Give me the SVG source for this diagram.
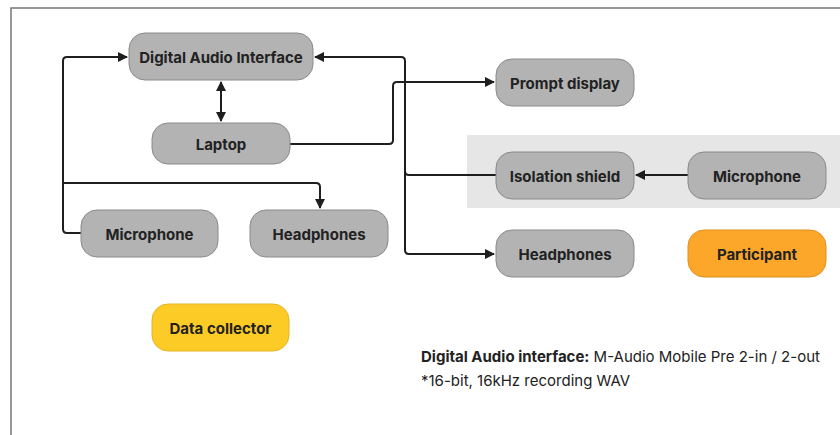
<svg xmlns="http://www.w3.org/2000/svg" width="840" height="435" viewBox="0 0 840 435">
<defs>
<style>
.n rect{fill:#b3b3b3;stroke:#8a8a8a;stroke-width:1}
.n text{font-family:Inter,"Noto Sans","Liberation Sans",sans-serif;font-weight:700;font-size:15px;fill:#222;text-anchor:middle;dominant-baseline:central}
.c path{fill:none;stroke:#1e1e1e;stroke-width:2;stroke-linejoin:round}
.note{font-family:Inter,"Noto Sans","Liberation Sans",sans-serif;font-size:15px;fill:#222}
</style>
<marker id="ah" viewBox="0 0 10 10" refX="9" refY="5" markerWidth="5" markerHeight="5" orient="auto-start-reverse" markerUnits="strokeWidth">
<path d="M0,0 L10,5 L0,10 z" fill="#1e1e1e"/>
</marker>
</defs>
<rect x="11" y="8" width="840" height="440" fill="#fff" stroke="#777" stroke-width="1.5"/>
<rect x="467" y="135" width="380" height="73" fill="#e6e6e6"/>
<g class="c" id="connectors">
<path d="M221,82 V121" marker-start="url(#ah)" marker-end="url(#ah)"/>
<path d="M81,233 H67 Q63,233 63,229 V61 Q63,57 67,57 H127" marker-end="url(#ah)"/>
<path d="M63,183 H316 Q320,183 320,187 V208" marker-end="url(#ah)"/>
<path d="M290,144 H389 Q393,144 393,140 V86 Q393,82 397,82 H494" marker-end="url(#ah)"/>
<path d="M496,175 H409 Q405,175 405,171 V61 Q405,57 401,57 H315" marker-end="url(#ah)"/>
<path d="M405,170 V250 Q405,254 409,254 H494" marker-end="url(#ah)"/>
<path d="M688,175 H636" stroke-width="1.6" marker-end="url(#ah)"/>
</g>
<g class="n" id="dai"><rect x="129" y="33" width="184" height="47" rx="16"/><text x="221" y="57">Digital Audio Interface</text></g>
<g class="n" id="laptop"><rect x="152" y="123" width="138" height="41" rx="16"/><text x="221" y="144">Laptop</text></g>
<g class="n" id="mic1"><rect x="81" y="210" width="137" height="47" rx="16"/><text x="149.5" y="234">Microphone</text></g>
<g class="n" id="hp1"><rect x="250" y="210" width="138" height="47" rx="16"/><text x="319" y="234">Headphones</text></g>
<g class="n" id="collector"><rect x="152" y="304" width="137" height="47" rx="16" style="fill:#fdcb26;stroke:#e5b424"/><text x="220.5" y="328">Data collector</text></g>
<g class="n" id="prompt"><rect x="496" y="59" width="138" height="47" rx="16"/><text x="565" y="83">Prompt display</text></g>
<g class="n" id="shield"><rect x="496" y="152" width="138" height="47" rx="16"/><text x="565" y="176">Isolation shield</text></g>
<g class="n" id="mic2"><rect x="688" y="152" width="138" height="47" rx="16"/><text x="757" y="176">Microphone</text></g>
<g class="n" id="hp2"><rect x="496" y="230" width="138" height="47" rx="16"/><text x="565" y="254">Headphones</text></g>
<g class="n" id="participant"><rect x="688" y="230" width="138" height="47" rx="16" style="fill:#fca72a;stroke:#e0911e"/><text x="757" y="254">Participant</text></g>
<text class="note" x="421" y="362"><tspan font-weight="700">Digital Audio interface:</tspan> M-Audio Mobile Pre 2-in / 2-out</text>
<text class="note" x="421" y="386">*16-bit, 16kHz recording WAV</text>
</svg>
